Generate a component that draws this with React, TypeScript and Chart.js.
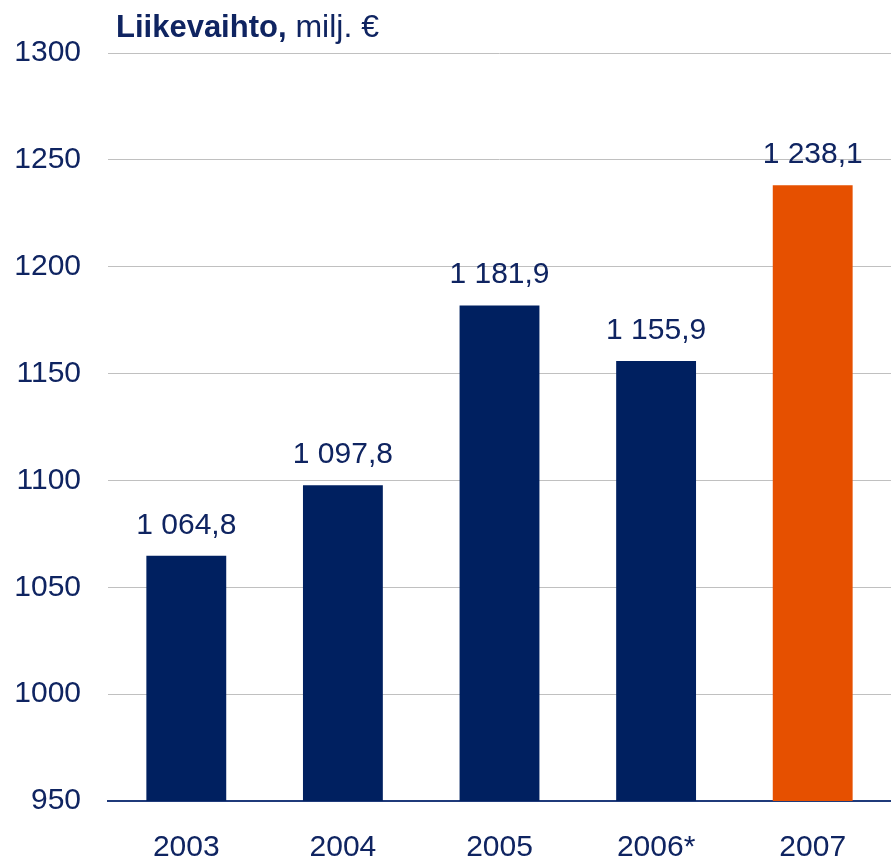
import React, { useEffect, useRef } from "react";
import { Chart, registerables } from "chart.js";

Chart.register(...registerables);

const categories = ["2003", "2004", "2005", "2006*", "2007"];
const values = [1064.8, 1097.8, 1181.9, 1155.9, 1238.1];
const valueLabels = ["1 064,8", "1 097,8", "1 181,9", "1 155,9", "1 238,1"];
const barColors = ["#002060", "#002060", "#002060", "#002060", "#E65000"];
const yTicks = [950, 1000, 1050, 1100, 1150, 1200, 1250, 1300];

const TEXT = "#0F2461";
const FONT = "'Liberation Sans', Arial, sans-serif";

const labelPlugin = {
  id: "valueLabels",
  afterDatasetsDraw(chart: any) {
    const ctx = chart.ctx;
    const meta = chart.getDatasetMeta(0);
    ctx.save();
    ctx.fillStyle = TEXT;
    ctx.font = `30px ${FONT}`;
    ctx.textAlign = "center";
    ctx.textBaseline = "alphabetic";
    meta.data.forEach((bar: any, i: number) => {
      ctx.fillText(valueLabels[i], bar.x, bar.y - 22);
    });
    ctx.restore();
  },
};

const titlePlugin = {
  id: "mixedTitle",
  afterDraw(chart: any) {
    const ctx = chart.ctx;
    ctx.save();
    ctx.fillStyle = TEXT;
    ctx.textBaseline = "alphabetic";
    ctx.textAlign = "left";
    ctx.font = `bold 31px ${FONT}`;
    const bold = "Liikevaihto,";
    ctx.fillText(bold, 116, 37);
    const w = ctx.measureText(bold).width;
    ctx.font = `32px ${FONT}`;
    ctx.fillText(" milj. €", 116 + w, 37);
    ctx.restore();
  },
};

export default function App() {
  const ref = useRef<HTMLCanvasElement | null>(null);
  useEffect(() => {
    if (!ref.current) return;
    const chart = new Chart(ref.current, {
      type: "bar",
      data: {
        labels: categories,
        datasets: [
          {
            data: values,
            backgroundColor: barColors,
            borderWidth: 0,
            categoryPercentage: 1,
            barPercentage: 0.51,
          },
        ],
      },
      options: {
        animation: false,
        responsive: false,
        devicePixelRatio: 1,
        layout: { padding: { top: 53, right: 0, bottom: 0, left: 0 } },
        plugins: { legend: { display: false }, tooltip: { enabled: false }, title: { display: false } },
        scales: {
          x: {
            grid: { display: false, drawTicks: false },
            border: { display: true, color: "#1F3A7A", width: 2 },
            ticks: { color: TEXT, font: { size: 30, family: FONT }, padding: 29 },
            afterFit(scale: any) {
              scale.height = 60;
            },
          },
          y: {
            min: 950,
            max: 1300,
            afterBuildTicks(scale: any) {
              scale.ticks = yTicks.map((v) => ({ value: v }));
            },
            grid: {
              drawTicks: false,
              color: (c: any) => (c.tick && c.tick.value === 950 ? "rgba(0,0,0,0)" : "#C0C0C0"),
              lineWidth: 1,
            },
            border: { display: false },
            ticks: {
              color: TEXT,
              font: { size: 30, family: FONT },
              padding: 27,
              callback: (v: any) => String(v),
            },
            afterFit(scale: any) {
              scale.width = 108;
            },
          },
        },
      },
      plugins: [labelPlugin, titlePlugin],
    });
    return () => chart.destroy();
  }, []);
  return (
    <div style={{ position: "absolute", left: 0, top: 0, width: 891, height: 861, background: "#fff" }}>
      <canvas ref={ref} width={891} height={861} style={{ display: "block" }} />
    </div>
  );
}
